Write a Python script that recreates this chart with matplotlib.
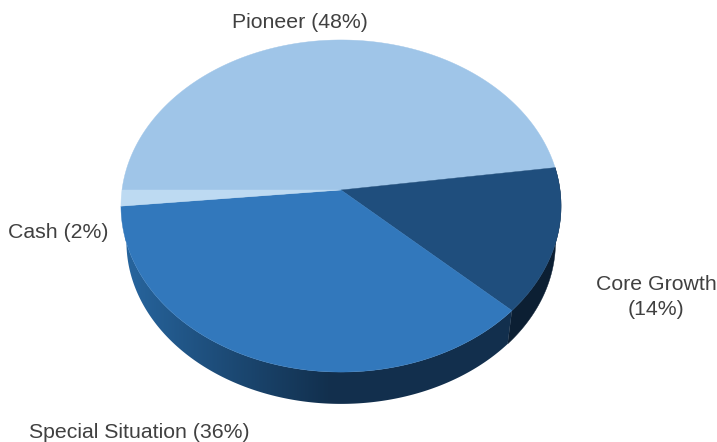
"""3D-look allocation pie, drawn by hand since matplotlib has no perspective pie."""
import numpy as np
import matplotlib
matplotlib.use("Agg")
import matplotlib.pyplot as plt
from matplotlib.colors import LinearSegmentedColormap
from matplotlib.patches import Polygon

# clockwise from the left edge of the pie
labels = ["Pioneer (48%)", "Core Growth\n(14%)", "Special Situation (36%)", "Cash (2%)"]
shares = [47.8, 14.2, 36.45, 1.55]
top_colors = ["#9fc5e8", "#1f4e7d", "#3278bc", "#bddaf2"]

label_pos = [(300, 22), (656, 297), (139, 432), (58, 233)]

CX, CY = 341, 190      # apex of the pie on the page
RX, RY = 219, 164.5
TILT = -0.0964         # perspective squeeze of the far half
RIM_SCALE = 0.975      # lower rim is a bit narrower than the top


def project(theta):
    # theta in degrees, counter-clockwise from the right
    t = np.radians(theta)
    u, v = np.cos(t), -np.sin(t)
    w = 1 + TILT * v
    return CX + RX * u / w, CY + RY * v / w


def lower_rim(x, y):
    return 340 + (x - 340) * RIM_SCALE, 242 + (y - 206) * RIM_SCALE


fig = plt.figure(figsize=(7.17, 4.42), dpi=100)
ax = fig.add_axes([0, 0, 1, 1])
ax.set_xlim(0, 717)
ax.set_ylim(442, 0)
ax.axis("off")

# slice boundaries, going clockwise from 180 degrees
edges = 180 - np.cumsum([0] + shares) * 3.6

# wall of the pie, the top faces hide whatever sticks out behind them
wall_cmap = LinearSegmentedColormap.from_list(
    "wall", [(0, "#27659e"), (0.52, "#12304e"), (1, "#132f4d")])


def wall_poly(a0, a1):
    x, y = project(np.linspace(a0, a1, 200))
    bx, by = lower_rim(x, y)
    return np.c_[np.r_[x, bx[::-1]], np.r_[y, by[::-1]]]


core_wall = Polygon(wall_poly(edges[1], edges[2]), color="#0c1f33", lw=0.3, zorder=1)
ax.add_patch(core_wall)

special_wall = Polygon(wall_poly(edges[2], edges[3]), color="none", lw=0, zorder=1)
ax.add_patch(special_wall)
img = ax.imshow(np.linspace(0, 1, 256)[None, :], cmap=wall_cmap, aspect="auto",
                extent=(125, 515, 420, 200), zorder=1)
img.set_clip_path(special_wall)
ax.set_xlim(0, 717)
ax.set_ylim(442, 0)

# top faces
for i in range(len(shares)):
    th = np.linspace(edges[i], edges[i + 1], 200)
    x, y = project(th)
    ax.fill(np.r_[CX, x], np.r_[CY, y], color=top_colors[i], lw=0.3, zorder=2)

for (tx, ty), lab in zip(label_pos, labels):
    ax.text(tx, ty, lab, ha="center", va="center", fontsize=15.3,
            family="Liberation Sans", color="#404040", linespacing=1.45, zorder=3)

fig.savefig("out.png", dpi=100)
